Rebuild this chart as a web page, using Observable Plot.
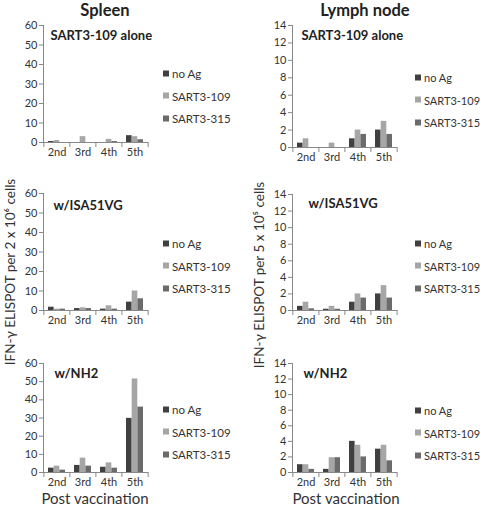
<!DOCTYPE html>
<html><head><meta charset="utf-8">
<script src="https://cdn.jsdelivr.net/npm/d3@7"></script>
<script src="https://cdn.jsdelivr.net/npm/@observablehq/plot@0.6"></script>
<style>
body{margin:0;background:#fff;}
#root{position:relative;width:480px;height:506px;overflow:hidden;font-family:Lato,"Open Sans",sans-serif;color:#333;}
.abs{position:absolute;}
.title{font-weight:bold;font-size:16.5px;line-height:17px;color:#222;transform:translate(-50%,-50%);white-space:nowrap;}
.ytitle{font-size:13.5px;color:#333;white-space:nowrap;transform:translate(-50%,-50%) rotate(-90deg);}
.xtitle{font-size:15px;line-height:15px;color:#333;transform:translate(-50%,-50%);white-space:nowrap;}
.legend{font-size:11.5px;color:#333;white-space:nowrap;}
.legend.right{font-size:11px;}
.legend div{position:absolute;left:0;display:flex;align-items:center;transform:translateY(-50%);}
.legend span.sw{display:inline-block;width:6px;height:6px;margin-right:3px;}
</style></head>
<body><div id="root"></div>
<script>
const organs = ["Spleen", "Lymph node"];
const adjuvants = ["SART3-109 alone", "w/ISA51VG", "w/NH2"];
const vaccinations = ["2nd", "3rd", "4th", "5th"];
const antigens = ["no Ag", "SART3-109", "SART3-315"];
const colors = ["#404040", "#a6a6a6", "#6b6b6b"];
const spleenTicks = [0, 10, 20, 30, 40, 50, 60];
const lymphTicks = [0, 2, 4, 6, 8, 10, 12, 14];
const yTitles = ["IFN-\u03b3 ELISPOT per 2 x 10\u2076 cells", "IFN-\u03b3 ELISPOT per 5 x 10\u2075 cells"];
const xTitle = "Post vaccination";

// rows: no Ag, SART3-109, SART3-315 ; columns: 2nd..5th
const spleenAlone = [[0.5, 0, 0, 3.5], [1, 3, 1.6, 3], [0, 0, 0.5, 1.4]];
const spleenISA = [[1.7, 1, 0.7, 4.3], [0.7, 1.4, 2.4, 10], [0.7, 1, 0.7, 6]];
const spleenNH2 = [[2.4, 3.9, 2.9, 29.8], [3.5, 7.9, 5.3, 51.5], [1.3, 3.5, 2.4, 36]];
const lymphAlone = [[0.5, 0, 1, 2], [1, 0.5, 2, 3], [0, 0, 1.5, 1.5]];
const lymphISA = [[0.5, 0.15, 1, 2], [1, 0.5, 2, 3], [0.2, 0.15, 1.5, 1.5]];
const lymphNH2 = [[1, 0.4, 4, 3], [1, 1.9, 3.5, 3.5], [0.4, 1.9, 2, 1.5]];

const root = document.getElementById("root");

// layout (pixels)
const ML = 30, MR = 10, MT = 15, MB = 25, FW = 105;
const panels = [
  {vals: spleenAlone, ticks: spleenTicks, left: 43, top: 25, bottom: 142, label: adjuvants[0], ldx: 7, ldy: 10, legTop: 73},
  {vals: spleenISA, ticks: spleenTicks, left: 43, top: 193, bottom: 310, label: adjuvants[1], ldx: 10, ldy: 12, legTop: 243},
  {vals: spleenNH2, ticks: spleenTicks, left: 43, top: 363, bottom: 472, label: adjuvants[2], ldx: 11, ldy: 10, legTop: 409},
  {vals: lymphAlone, ticks: lymphTicks, left: 292, top: 25, bottom: 147, label: adjuvants[0], ldx: 9, ldy: 10, legTop: 77},
  {vals: lymphISA, ticks: lymphTicks, left: 292, top: 194, bottom: 310, label: adjuvants[1], ldx: 16, ldy: 9, legTop: 243},
  {vals: lymphNH2, ticks: lymphTicks, left: 292, top: 363, bottom: 472, label: adjuvants[2], ldx: 11, ldy: 10, legTop: 410}
];
const step = FW / vaccinations.length;
const third = step * 0.65 / 3;

panels.forEach((p, k) => {
  const rows = [];
  antigens.forEach((a, j) => vaccinations.forEach((v, i) => rows.push({antigen: a, j, vac: v, value: p.vals[j][i]})));
  const FH = p.bottom - p.top;
  const ymax = p.ticks[p.ticks.length - 1];
  const chart = Plot.plot({
    width: ML + FW + MR, height: MT + FH + MB,
    marginLeft: ML, marginRight: MR, marginTop: MT, marginBottom: MB,
    style: {fontFamily: "Lato, 'Open Sans', sans-serif", fontSize: "11px", color: "#333", background: "transparent", overflow: "visible"},
    x: {domain: vaccinations, paddingInner: 0.35, paddingOuter: 0.175, label: null},
    y: {domain: [0, ymax], ticks: p.ticks, label: null},
    marks: [
      ...antigens.map((a, j) => Plot.barY(rows.filter(d => d.j === j), {
        x: "vac", y: "value", fill: colors[j],
        insetLeft: j * third, insetRight: (2 - j) * third
      })),
      Plot.ruleY([0], {stroke: "#888"}),
      Plot.frame({anchor: "left", stroke: "#888"}),
      Plot.axisY({ticks: p.ticks, tickSize: 4, tickPadding: 2, stroke: "#888", fill: "#333", label: null}),
      Plot.axisX({tickSize: 0, tickPadding: 6, fill: "#333", label: null}),
      Plot.axisX({tickSize: 5, tickFormat: () => "", dx: -step / 2, stroke: "#888", label: null}),
      Plot.axisX({ticks: [vaccinations[3]], tickSize: 5, tickFormat: () => "", dx: step / 2, stroke: "#888", label: null}),
      Plot.text([p.label], {frameAnchor: "top-left", textAnchor: "start", lineAnchor: "middle", dx: p.ldx, dy: p.ldy, fontWeight: "bold", fontSize: 13, fill: "#222"})
    ]
  });
  chart.classList.add("abs");
  chart.style.left = (p.left - ML) + "px";
  chart.style.top = (p.top - MT) + "px";
  root.appendChild(chart);

  // legend
  const leg = document.createElement("div");
  leg.className = "abs legend" + (k < 3 ? "" : " right");
  const legLeft = k < 3 ? 163 : 415;
  leg.style.left = legLeft + "px";
  leg.style.top = p.legTop + "px";
  antigens.forEach((a, j) => {
    const row = document.createElement("div");
    row.style.top = (j * 22.5) + "px";
    row.innerHTML = `<span class="sw" style="background:${colors[j]}"></span>${a}`;
    leg.appendChild(row);
  });
  root.appendChild(leg);
});

// titles
[[organs[0], 105], [organs[1], 365]].forEach(([t, x]) => {
  const d = document.createElement("div");
  d.className = "abs title"; d.textContent = t;
  d.style.left = x + "px"; d.style.top = "10px";
  root.appendChild(d);
});
[[yTitles[0], 10, 272], [yTitles[1], 259, 275]].forEach(([t, x, y]) => {
  const d = document.createElement("div");
  d.className = "abs ytitle"; d.textContent = t;
  d.style.left = x + "px"; d.style.top = y + "px";
  root.appendChild(d);
});
[95, 346].forEach(x => {
  const d = document.createElement("div");
  d.className = "abs xtitle"; d.textContent = xTitle;
  d.style.left = x + "px"; d.style.top = "498px";
  root.appendChild(d);
});
</script>
</body></html>
